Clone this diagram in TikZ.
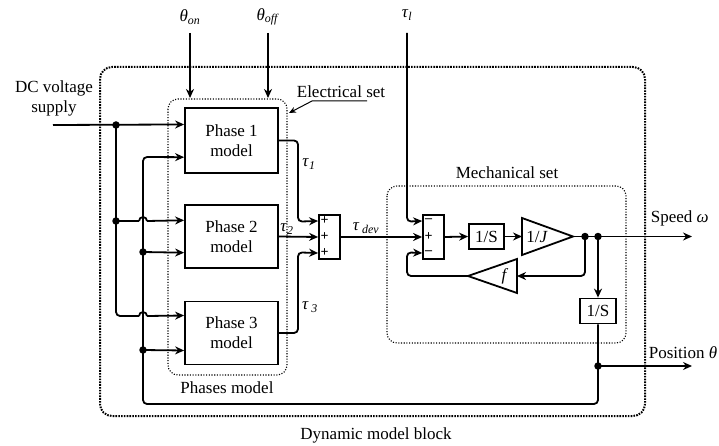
\documentclass[tikz,border=0pt]{standalone}
\usepackage{fontspec}
\setmainfont{Liberation Serif}
\usetikzlibrary{arrows.meta,calc}
\begin{document}
\begin{tikzpicture}[x=1pt,y=-1pt, line width=1.8pt,
  >={Stealth[length=9pt,width=8pt]},
  blk/.style={draw, line width=1.8pt, inner sep=0pt, align=center, font=\fontsize{17}{20}\selectfont},
  sumblk/.style={draw, line width=1.8pt, inner sep=0pt, minimum width=21pt, minimum height=44pt},
  lbl/.style={font=\fontsize{17}{20}\selectfont, inner sep=0pt, align=center},
  sgn/.style={font=\fontsize{14}{14}\selectfont\bfseries, inner sep=0pt},
  jdot/.style={circle, fill, inner sep=0pt, minimum size=7.5pt},
  outerbox/.style={line width=2pt, dash pattern=on 1.6pt off 1.2pt, rounded corners=12pt},
  innerbox/.style={line width=1.1pt, dash pattern=on 1.1pt off 1.6pt, rounded corners=10pt},
  wire/.style={rounded corners=4pt}
]
\useasboundingbox (0,0) rectangle (719,446);

% dotted frames
\draw[outerbox] (100,67) rectangle (645,416);
\draw[innerbox] (168,99) rectangle (287,375);
\draw[innerbox] (387,186) rectangle (626,343);

% phase blocks
\node[blk, minimum width=93pt, minimum height=65pt] (p1) at (231.5,140.5) {Phase 1\\model};
\node[blk, minimum width=93pt, minimum height=63pt] (p2) at (231.5,236.5) {Phase 2\\model};
\node[blk, minimum width=93pt, minimum height=63pt] (p3) at (231.5,333) {Phase 3\\model};

\coordinate (p1a) at ($(p1.north west)!0.26!(p1.south west)$);
\coordinate (p1b) at ($(p1.north west)!0.75!(p1.south west)$);
\coordinate (p2a) at ($(p2.north west)!0.25!(p2.south west)$);
\coordinate (p2b) at ($(p2.north west)!0.75!(p2.south west)$);
\coordinate (p3a) at ($(p3.north west)!0.23!(p3.south west)$);
\coordinate (p3b) at ($(p3.north west)!0.77!(p3.south west)$);

% summation blocks
\node[sumblk] (s1) at (329.5,237) {};
\node[sumblk] (s2) at (433.5,237) {};
\coordinate (s1i1) at ($(s1.north west)!0.15!(s1.south west)$);
\coordinate (s1i2) at (s1.west);
\coordinate (s1i3) at ($(s1.north west)!0.85!(s1.south west)$);
\coordinate (s2i1) at ($(s2.north west)!0.15!(s2.south west)$);
\coordinate (s2i2) at (s2.west);
\coordinate (s2i3) at ($(s2.north west)!0.85!(s2.south west)$);
\node[sgn] (s1p1) at ($(s1i1)+(6.5,0)$) {+};
\node[sgn] (s1p2) at ($(s1i2)+(6.5,0)$) {+};
\node[sgn] (s1p3) at ($(s1i3)+(6.5,0)$) {+};
\node[sgn] (s2m1) at ($(s2i1)+(6.5,0)$) {\textendash};
\node[sgn] (s2p2) at ($(s2i2)+(6.5,0)$) {+};
\node[sgn] (s2m3) at ($(s2i3)+(6.5,0)$) {\textendash};

% integrators
\node[blk, minimum width=35pt, minimum height=25pt] (i1) at (486.5,236.5) {1/S};
\node[blk, minimum width=36pt, minimum height=25pt] (i2) at (598,311) {1/S};

% 1/J gain
\coordinate (jin) at (522,236.5);
\coordinate (jout) at (573,236.5);
\draw[line join=miter] (522,218) -- (jout) -- (522,255) -- cycle;
\node[lbl] (jt) at (537,236.5) {1/\textit{J}};

% f gain
\coordinate (fbase) at (517,276);
\coordinate (ftip) at (468,276);
\draw (517,259) -- (ftip) -- (517,293) -- cycle;
\node[lbl] (ft) at (505,276) {\textit{f}};

% junction coordinates
\coordinate (ja) at (116,125);
\coordinate (jb) at (116,221);
\coordinate (jc) at (143,252);
\coordinate (jd) at (143,350);
\coordinate (je) at (585,236.5);
\coordinate (jf) at (598,236.5);
\coordinate (jg) at (598,366);
\coordinate (dc) at (53,125);
\coordinate (spd) at (692,236.5);
\coordinate (pos) at (692,366);
\coordinate (tl) at (407,33);
\coordinate (ton) at (190,33);
\coordinate (toff) at (268,33);

% DC supply distribution
\draw[->] (dc) -- (p1a);
\draw[wire] (ja) -- (116,316) -- (139,316);
\draw (139,316) arc[start angle=180, end angle=0, radius=4pt];
\draw[->] (147,316) -- (p3a);
\draw (jb) -- (139,221);
\draw (139,221) arc[start angle=180, end angle=0, radius=4pt];
\draw[->] (147,221) -- (p2a);

% position feedback bus
\draw[->, wire] (i2.south) -- (598,404) -- (143,404) -- (143,157) -- (p1b);
\draw[->] (jc) -- (p2b);
\draw[->] (jd) -- (p3b);

% theta inputs
\draw[->] (ton) -- (190,98);
\draw[->] (toff) -- (268,98);

% torques
\draw[->, wire] (p1.east) -- (298,140.5) -- (298,221.6) -- (s1i1);
\draw[->] (p2.east) -- (s1i2);
\draw[->, wire] (p3.east) -- (298,333) -- (298,252.4) -- (s1i3);
\draw[->] (s1.east) -- (s2i2);

% mechanical set
\draw[->, wire] (tl) -- (407,221.6) -- (s2i1);
\draw[->] (s2.east) -- (i1.west);
\draw[->] (i1.east) -- (jin);
\draw[->] (jout) -- (spd);
\draw[->, wire] (je) -- (585,276) -- (fbase);
\draw[->, wire] (ftip) -- (407,276) -- (407,252.4) -- (s2i3);
\draw[->] (jf) -- (i2.north);
\draw[->] (jg) -- (pos);

% dots
\foreach \p in {ja,jb,jc,jd,je,jf,jg} \node[jdot] at (\p) {};

% labels
\node[lbl] (ldc) at (54,98) {DC voltage\\supply};
\node[lbl] (lon) at (190,17) {\textit{θ}\textsubscript{\textit{on}}};
\node[lbl] (loff) at (268,17) {\textit{θ}\textsubscript{\textit{off}}};
\node[lbl] (ltl) at (407,15) {\textit{τ}\textsubscript{\textit{l}}};
\node[lbl] (lel) at (341,92) {Electrical set};
\draw[->, line width=1pt, >={Stealth[length=7pt,width=6pt]}] (367,101) -- (312,101) -- (289,113);
\node[lbl] (lt1) at (309,164) {\textit{τ}\textsubscript{\textit{1}}};
\node[lbl] (lt2) at (287,229) {\textit{τ}\textsubscript{\textit{2}}};
\node[lbl] (lt3) at (310,307) {\textit{τ}\,\textsubscript{\textit{3}}};
\node[lbl] (ltd) at (366,228) {\textit{τ}\,\textsubscript{\textit{dev}}};
\node[lbl] (lmech) at (507,173) {Mechanical set};
\node[lbl, anchor=west] (lspd) at (650,218) {Speed \textit{ω}};
\node[lbl, anchor=west] (lpos) at (648,353) {Position \textit{θ}};
\node[lbl] (lph) at (227,388) {Phases model};
\node[lbl] (ldyn) at (376,435) {Dynamic model block};
\end{tikzpicture}
\end{document}
